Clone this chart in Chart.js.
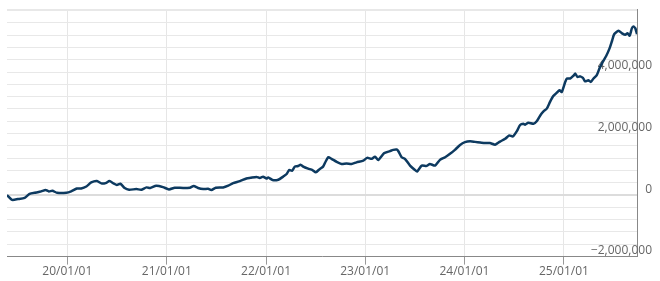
<!DOCTYPE html>
<html lang="ja">
  <head>
    <meta charset="UTF-8" />
    <script src="https://cdn.jsdelivr.net/npm/chart.js"></script>
    <title>基準価額チャート</title>
    <style>
      html, body { margin: 0; padding: 0; background: #fff; }
      .wrap { width: 660px; height: 281px; }
    </style>
  </head>
  <body>
    <div class="wrap"><canvas id="myChart"></canvas></div>

    <script>
      // dates
      const dates = [
        "2019-05-24", "2019-06-12", "2019-07-03", "2019-07-28", "2019-08-15", "2019-09-09",
        "2019-09-27", "2019-10-13", "2019-10-25", "2019-11-07", "2019-11-24", "2019-12-28",
        "2020-01-15", "2020-02-05", "2020-02-21", "2020-03-11", "2020-03-29", "2020-04-19",
        "2020-05-05", "2020-05-21", "2020-06-04", "2020-06-19", "2020-07-01", "2020-07-14",
        "2020-07-30", "2020-08-15", "2020-09-11", "2020-09-29", "2020-10-18", "2020-11-01",
        "2020-11-23", "2020-12-18", "2021-01-09", "2021-01-30", "2021-03-02", "2021-03-27",
        "2021-04-10", "2021-04-26", "2021-05-15", "2021-06-02", "2021-06-14", "2021-06-30",
        "2021-07-27", "2021-08-15", "2021-09-02", "2021-09-27", "2021-10-21", "2021-11-05",
        "2021-11-27", "2021-12-09", "2021-12-21", "2022-01-03", "2022-01-09", "2022-01-25",
        "2022-02-15", "2022-03-05", "2022-03-18", "2022-03-27", "2022-04-07", "2022-04-17",
        "2022-04-29", "2022-05-08", "2022-05-18", "2022-06-05", "2022-06-21", "2022-07-03",
        "2022-07-18", "2022-07-30", "2022-08-09", "2022-08-18", "2022-08-30", "2022-09-18",
        "2022-10-06", "2022-10-24", "2022-11-12", "2022-11-30", "2022-12-25", "2023-01-08",
        "2023-01-25", "2023-02-06", "2023-02-18", "2023-03-11", "2023-04-02", "2023-04-14",
        "2023-04-27", "2023-05-03", "2023-05-15", "2023-05-27", "2023-06-15", "2023-07-03",
        "2023-07-11", "2023-07-28", "2023-08-15", "2023-08-27", "2023-09-15", "2023-10-03",
        "2023-10-22", "2023-11-09", "2023-11-27", "2023-12-16", "2024-01-03", "2024-01-22",
        "2024-02-09", "2024-02-28", "2024-03-17", "2024-04-04", "2024-04-23", "2024-05-11",
        "2024-05-30", "2024-06-14", "2024-06-27", "2024-07-12", "2024-07-24", "2024-08-05",
        "2024-08-11", "2024-08-23", "2024-09-11", "2024-09-23", "2024-10-06", "2024-10-18",
        "2024-10-30", "2024-11-11", "2024-11-23", "2024-12-06", "2024-12-16", "2024-12-24",
        "2025-01-06", "2025-01-12", "2025-01-24", "2025-02-05", "2025-02-12", "2025-02-20",
        "2025-03-02", "2025-03-12", "2025-03-20", "2025-04-01", "2025-04-10", "2025-04-20",
        "2025-05-02", "2025-05-12", "2025-05-24", "2025-06-06", "2025-06-18", "2025-06-27",
        "2025-07-05", "2025-07-21", "2025-08-03", "2025-08-15", "2025-08-23", "2025-08-31",
        "2025-09-08", "2025-09-14", "2025-09-21", "2025-09-27"
      ];

      const values = [
        0, -155000, -130000, -90000, 40000, 85000,
        120000, 165000, 120000, 140000, 75000, 75000,
        120000, 215000, 215000, 280000, 410000, 455000,
        380000, 390000, 455000, 380000, 325000, 370000,
        230000, 175000, 195000, 175000, 250000, 230000,
        305000, 260000, 185000, 240000, 230000, 240000,
        295000, 230000, 195000, 205000, 165000, 240000,
        250000, 305000, 390000, 455000, 540000, 560000,
        590000, 555000, 600000, 540000, 575000, 490000,
        500000, 600000, 685000, 815000, 795000, 925000,
        945000, 990000, 925000, 860000, 815000, 740000,
        850000, 925000, 1100000, 1230000, 1180000, 1080000,
        1010000, 1030000, 1010000, 1065000, 1120000, 1210000,
        1180000, 1250000, 1140000, 1360000, 1430000, 1470000,
        1480000, 1425000, 1230000, 1180000, 960000, 815000,
        770000, 960000, 950000, 1010000, 960000, 1145000,
        1230000, 1340000, 1470000, 1630000, 1720000, 1750000,
        1730000, 1710000, 1690000, 1690000, 1640000, 1740000,
        1830000, 1940000, 1905000, 2080000, 2280000, 2320000,
        2290000, 2350000, 2320000, 2400000, 2590000, 2720000,
        2810000, 3030000, 3220000, 3330000, 3410000, 3350000,
        3680000, 3790000, 3790000, 3880000, 3950000, 3840000,
        3860000, 3810000, 3700000, 3730000, 3680000, 3790000,
        3900000, 4120000, 4330000, 4530000, 4770000, 5010000,
        5230000, 5340000, 5260000, 5210000, 5260000, 5180000,
        5420000, 5480000, 5420000, 5230000
      ];

      const yearTicks = ["2020-01-01", "2021-01-01", "2022-01-01", "2023-01-01", "2024-01-01", "2025-01-01"];
      const yMin = -2000000;
      const yMax = 6050000;
      const yStep = 400000;
      const yLabelStep = 2000000;

      const puntos = dates.map(function (d, i) {
        return { x: Date.parse(d), y: values[i] };
      });

      function fmtFecha(v) {
        const d = new Date(v);
        const yy = String(d.getUTCFullYear() % 100).padStart(2, "0");
        const mm = String(d.getUTCMonth() + 1).padStart(2, "0");
        const dd = String(d.getUTCDate()).padStart(2, "0");
        return yy + "/" + mm + "/" + dd;
      }

      Chart.defaults.font.family = "'Open Sans', sans-serif";
      Chart.defaults.font.size = 12;
      Chart.defaults.color = "#666";

      const config = {
        type: "line",
        data: {
          datasets: [
            {
              label: "基準価額",
              data: puntos,
              borderColor: "#0d3a60",
              backgroundColor: "#0d3a60",
              borderWidth: 2.5,
              pointRadius: 0,
              tension: 0.2,
            },
          ],
        },
        options: {
          responsive: true,
          maintainAspectRatio: false,
          animation: false,
          layout: { padding: { left: 7, right: 23, top: 9, bottom: 2 } },
          plugins: { legend: { display: false }, tooltip: { enabled: false } },
          scales: {
            x: {
              type: "linear",
              min: Date.parse(dates[0]),
              max: Date.parse(dates[dates.length - 1]),
              afterBuildTicks: function (scale) {
                scale.ticks = yearTicks.map(function (t) {
                  return { value: Date.parse(t) };
                });
              },
              ticks: {
                callback: function (v) { return fmtFecha(v); },
                padding: 0,
                maxRotation: 0,
                autoSkip: false,
              },
              grid: { color: "#e6e6e6", tickColor: "#999", tickLength: 8 },
              border: { color: "#888" },
            },
            y: {
              position: "right",
              min: yMin,
              max: yMax,
              afterBuildTicks: function (scale) {
                const t = [];
                for (let v = yMin; v <= yMax; v += yStep) t.push({ value: v });
                t.push({ value: yMax });
                scale.ticks = t;
              },
              afterFit: function (scale) {
                scale.width = 0;
                scale.paddingTop = 0;
                scale.paddingBottom = 0;
              },
              ticks: {
                autoSkip: false,
                mirror: true,
                padding: 15,
                labelOffset: -6,
                callback: function (v) {
                  // top label sits off the chart in the original, so leave it out
                  if (v % yLabelStep !== 0 || v + yStep > yMax) return "";
                  return v.toLocaleString("en-US").replace("-", "\u2212");
                },
              },
              grid: {
                drawTicks: false,
                color: function (ctx) {
                  return ctx.tick && ctx.tick.value === 0 ? "#dcdcdc" : "#e8e8e8";
                },
                lineWidth: function (ctx) {
                  return ctx.tick && ctx.tick.value === 0 ? 2 : 1;
                },
              },
              border: { color: "#888" },
            },
          },
        },
      };

      const myChart = new Chart(document.getElementById("myChart"), config);
    </script>
  </body>
</html>
